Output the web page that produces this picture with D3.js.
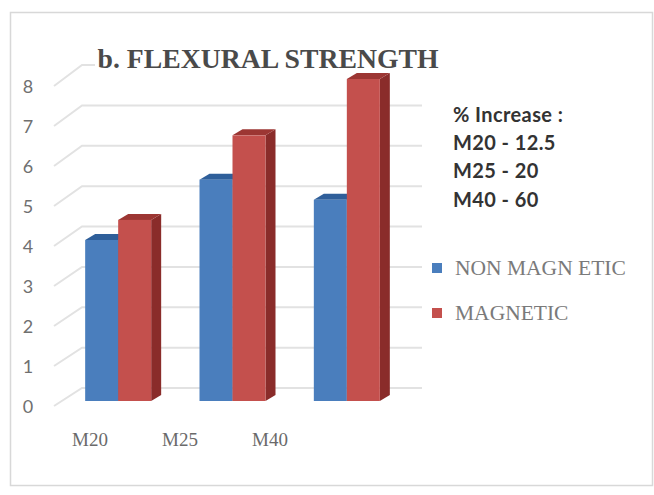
<!DOCTYPE html>
<html>
<head>
<meta charset="utf-8">
<script src="https://cdn.jsdelivr.net/npm/d3@7"></script>
<style>
  html, body { margin: 0; padding: 0; background: #fff; }
  svg { display: block; }
</style>
</head>
<body>
<svg id="chart" width="654" height="495"></svg>
<script>
// Flexural strength by concrete grade
const categories = ["M20", "M25", "M40"];
const seriesNames = ["NON MAGNETIC", "MAGNETIC"];
const legendLabels = ["NON MAGN ETIC", "MAGNETIC"];
const nonMagnetic = [4, 5.5, 5];
const magnetic = [4.5, 6.6, 8];
const yTicks = [0, 1, 2, 3, 4, 5, 6, 7, 8];
const notes = ["% Increase :", "M20 - 12.5", "M25 - 20", "M40 - 60"];

const svg = d3.select("#chart");

const palette = {
  "NON MAGNETIC": { front: "#4a7ebd", top: "#2f5f9a", side: "#2b5590" },
  "MAGNETIC":     { front: "#c4504d", top: "#9c3633", side: "#8a2c2a" }
};

// outer frame
svg.append("rect")
  .attr("x", 10.5).attr("y", 12.5)
  .attr("width", 642).attr("height", 473)
  .attr("fill", "none").attr("stroke", "#d8d8d8").attr("stroke-width", 1.5);

// scales: front (bars), back wall (gridlines), axis labels
const yFront = d3.scaleLinear().domain([0, 8]).range([401, 79]);
const yBack = d3.scaleLinear().domain([0, 8]).range([388, 65]);
const yLabel = d3.scaleLinear().domain([0, 8]).range([406, 86]);

const wallLeft = 82, wallRight = 422, floorLeft = 54;

// gridlines: diagonal on the side wall plus horizontal on the back wall
const grid = svg.append("g").attr("stroke", "#e2e2e2").attr("stroke-width", 2).attr("fill", "none");
yTicks.forEach(v => {
  grid.append("path")
    .attr("d", `M${floorLeft},${yLabel(v)} L${wallLeft},${yBack(v)} L${wallRight},${yBack(v)}`);
});

// title, on a white plate so the top gridline passes behind it
svg.append("rect")
  .attr("x", 95).attr("y", 42).attr("width", 348).attr("height", 29)
  .attr("fill", "#fff");
svg.append("text")
  .attr("x", 268).attr("y", 68)
  .attr("text-anchor", "middle")
  .attr("font-family", "'Liberation Serif', 'DejaVu Serif', serif")
  .attr("font-weight", "bold")
  .attr("font-size", 28)
  .attr("fill", "#4a4a4a")
  .attr("textLength", 341)
  .attr("lengthAdjust", "spacingAndGlyphs")
  .text("b. FLEXURAL STRENGTH");

// y axis labels
svg.append("g")
  .selectAll("text")
  .data(yTicks)
  .join("text")
  .attr("x", 28).attr("y", d => yLabel(d) + 7)
  .attr("text-anchor", "middle")
  .attr("font-family", "Lato, 'Open Sans', sans-serif")
  .attr("font-size", 18)
  .attr("fill", "#707070")
  .text(d => d);

// bars
const x0 = d3.scaleBand().domain(categories).range([61, 404]);
const x1 = d3.scaleBand().domain(seriesNames).range([-33, 33]);
const depthX = 10, depthY = -6;

const rows = categories.map((c, i) => ({ cat: c, values: [
  { s: seriesNames[0], v: nonMagnetic[i] },
  { s: seriesNames[1], v: magnetic[i] }
]}));

const barsG = svg.append("g");
rows.forEach(row => {
  const cx = x0(row.cat) + x0.bandwidth() / 2;
  row.values.forEach(d => {
    const left = cx + x1(d.s);
    const right = left + x1.bandwidth();
    const top = yFront(d.v);
    const bottom = yFront(0);
    const col = palette[d.s];
    // side face
    barsG.append("path")
      .attr("d", `M${right},${top} L${right + depthX},${top + depthY} L${right + depthX},${bottom + depthY} L${right},${bottom} Z`)
      .attr("fill", col.side);
    // top face
    barsG.append("path")
      .attr("d", `M${left},${top} L${left + depthX},${top + depthY} L${right + depthX},${top + depthY} L${right},${top} Z`)
      .attr("fill", col.top);
    // front face
    barsG.append("rect")
      .attr("x", left).attr("y", top)
      .attr("width", right - left).attr("height", bottom - top)
      .attr("fill", col.front);
  });
});

// category labels along the front edge of the floor
const xLabel = d3.scaleBand().domain(categories).range([45, 315]);
svg.append("g")
  .selectAll("text")
  .data(categories)
  .join("text")
  .attr("x", d => xLabel(d) + xLabel.bandwidth() / 2)
  .attr("y", 446)
  .attr("text-anchor", "middle")
  .attr("font-family", "'Liberation Serif', serif")
  .attr("font-size", 19)
  .attr("fill", "#6a6a6a")
  .text(d => d);

// percentage increase note
svg.append("g")
  .selectAll("text")
  .data(notes)
  .join("text")
  .attr("x", 453)
  .attr("y", (d, i) => 122 + i * 28.2)
  .attr("font-family", "Lato, 'Open Sans', sans-serif")
  .attr("font-weight", "bold")
  .attr("font-size", 20)
  .attr("letter-spacing", 0.4)
  .attr("fill", "#333")
  .text(d => d);

// legend
const legend = svg.append("g");
seriesNames.forEach((s, i) => {
  const y = 268 + i * 45;
  legend.append("rect")
    .attr("x", 432).attr("y", y - 5)
    .attr("width", 10).attr("height", 10)
    .attr("fill", palette[s].front);
  legend.append("text")
    .attr("x", 455).attr("y", y + 7)
    .attr("font-family", "'Liberation Serif', serif")
    .attr("font-size", 21.5)
    .attr("fill", "#7a7a7a")
    .text(legendLabels[i]);
});
</script>
</body>
</html>
